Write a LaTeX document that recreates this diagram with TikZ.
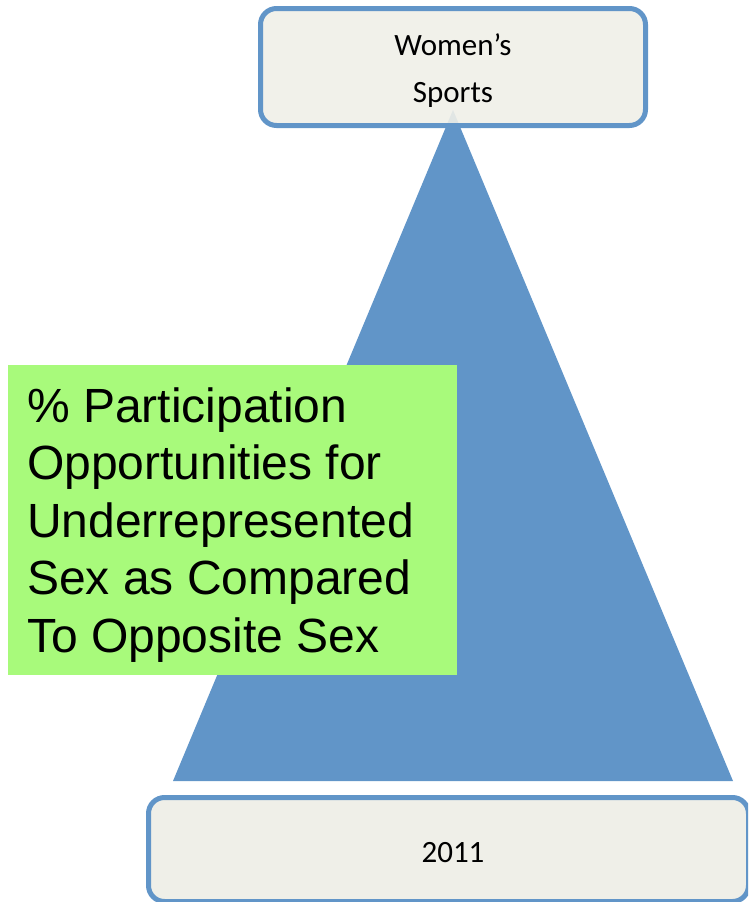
\documentclass[tikz,border=0pt]{standalone}
\usepackage{fontspec}
\setmainfont{Carlito}
\newfontfamily\arialfont{Liberation Sans}
\definecolor{pyrblue}{HTML}{6195C8}
\definecolor{boxfill}{HTML}{EFEFE8}
\definecolor{notegreen}{HTML}{A8FA7B}
\begin{document}
\begin{tikzpicture}[x=1pt,y=-1pt,
  labelbox/.style={draw=pyrblue, line width=5pt, fill=boxfill, rounded corners=16pt, inner sep=0pt},
  labeltext/.style={font=\fontsize{31}{47}\selectfont, align=center, inner sep=0pt},
  notetext/.style={font=\arialfont\fontsize{48}{57.5}\selectfont, align=left, inner sep=0pt}]
\useasboundingbox (0,0) rectangle (748,902);
\clip (0,0) rectangle (748,902);

% pyramid
\coordinate (apex) at (453,110);
\coordinate (baseR) at (733,781);
\coordinate (baseL) at (173,781);
\fill[pyrblue] (apex) -- (baseR) -- (baseL) -- cycle;

% top label
\node[labelbox, fill opacity=0.9, minimum width=385pt, minimum height=117pt] (topbox) at (453,67) {};
\node[labeltext, anchor=base] (toplabel) at (453,102) {Women’s\\Sports};

% bottom label (runs off the lower right edge)
\node[labelbox, minimum width=600pt, minimum height=104pt] (bottombox) at (448.5,849.5) {};
\node[labeltext, anchor=base] (bottomlabel) at (453,862) {2011};

% green note
\node[fill=notegreen, minimum width=449pt, minimum height=310pt, inner sep=0pt] (notebox) at (232.5,520) {};
\node[notetext, anchor=base west] (notelabel) at (27,652) {\% Participation\\Opportunities for\\Underrepresented\\Sex as Compared\\To Opposite Sex};
\end{tikzpicture}
\end{document}
